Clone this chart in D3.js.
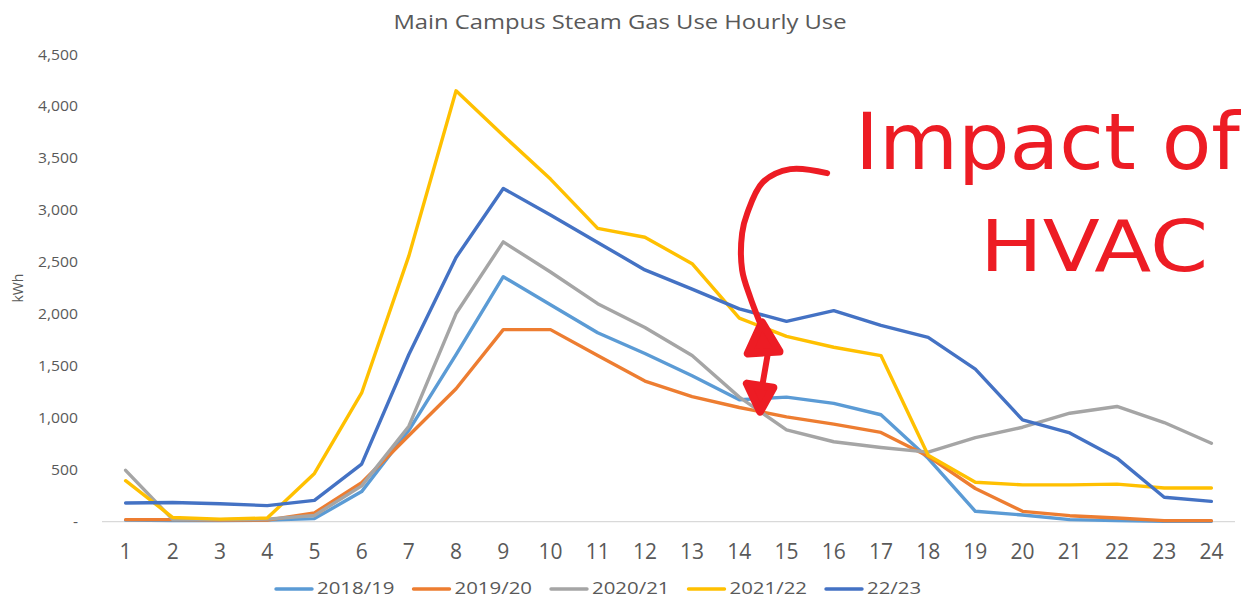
<!DOCTYPE html>
<html>
<head>
<meta charset="utf-8">
<script src="https://cdn.jsdelivr.net/npm/d3@7"></script>
<style>
  body { margin: 0; background: #fff; }
  svg text { font-family: "Open Sans", "Noto Sans", sans-serif; }
</style>
</head>
<body>
<svg id="chart" width="1241" height="598"></svg>
<script>
var hours = d3.range(1, 25);
var yTicks = [0, 500, 1000, 1500, 2000, 2500, 3000, 3500, 4000, 4500];

var seriesNames = ["2018/19", "2019/20", "2020/21", "2021/22", "22/23"];
var seriesColors = ["#5b9bd5", "#ed7d31", "#a5a5a5", "#ffc000", "#4472c4"];

var use1819 = [15, 10, 10, 15, 30, 290, 880, 1610, 2360, 2090, 1820, 1620, 1405, 1175, 1200, 1140, 1030, 610, 100, 65, 20, 10, 5, 5];
var use1920 = [20, 20, 15, 15, 85, 375, 830, 1280, 1850, 1850, 1600, 1355, 1205, 1100, 1010, 940, 860, 630, 320, 100, 58, 35, 10, 10];
var use2021 = [495, 20, 20, 25, 60, 345, 920, 2005, 2695, 2405, 2100, 1870, 1600, 1200, 885, 770, 715, 670, 810, 910, 1045, 1110, 955, 755];
var use2122 = [395, 40, 25, 35, 465, 1240, 2560, 4150, 3720, 3300, 2825, 2740, 2485, 1960, 1785, 1680, 1600, 640, 380, 355, 355, 362, 325, 325];
var use2223 = [180, 185, 173, 155, 205, 555, 1610, 2545, 3210, 2955, 2690, 2425, 2240, 2050, 1930, 2033, 1890, 1776, 1470, 980, 855, 612, 235, 196];

var allSeries = [use1819, use1920, use2021, use2122, use2223];

// hand-drawn note, placed in chart units (hour, kWh)
var noteCurve = [[15.86, 3357], [15.08, 3396], [14.50, 3271], [14.17, 2973], [14.06, 2780],
                 [14.06, 2424], [14.23, 2163], [14.44, 1913]];
var noteShaft = [[14.62, 1660], [14.44, 1190]];
var noteHeadUp = [[14.48, 1920], [14.18, 1620], [14.85, 1640]];
var noteHeadDown = [[14.44, 1060], [14.16, 1330], [14.72, 1290]];

var svg = d3.select("#chart");

var x = d3.scalePoint().domain(hours).range([102, 1235]).padding(0.5);
var y = d3.scaleLinear().domain([0, 4500]).range([521.7, 54.5]);
var xc = d3.scaleLinear().domain([1, 24]).range([x(1), x(24)]);

// the source picture is a bit wider than tall, so stretch text sideways
function stretch(sel, k) {
    sel.each(function() {
        var len = this.getComputedTextLength();
        d3.select(this).attr("textLength", len * k).attr("lengthAdjust", "spacingAndGlyphs");
    });
}

// title
svg.append("text")
    .attr("x", 620).attr("y", 29)
    .attr("text-anchor", "middle")
    .attr("font-size", 19.5)
    .attr("fill", "#595959")
    .text("Main Campus Steam Gas Use Hourly Use")
    .call(stretch, 1.22);

// y axis labels
svg.append("g").selectAll("text")
    .data(yTicks).enter()
    .append("text")
    .attr("x", 78)
    .attr("y", function(d) { return y(d) + 5; })
    .attr("text-anchor", "end")
    .attr("font-size", 14)
    .attr("fill", "#595959")
    .text(function(d) { return d == 0 ? "-" : d3.format(",")(d); })
    .call(stretch, 1.12);

svg.append("text")
    .attr("transform", "translate(23," + y(2250) + ") rotate(-90)")
    .attr("text-anchor", "middle")
    .attr("font-size", 14)
    .attr("fill", "#595959")
    .text("kWh");

// baseline
svg.append("line")
    .attr("x1", 102).attr("x2", 1235)
    .attr("y1", y(0)).attr("y2", y(0))
    .attr("stroke", "#d9d9d9").attr("stroke-width", 1.3);

// x labels
svg.append("g").selectAll("text")
    .data(hours).enter()
    .append("text")
    .attr("x", function(d) { return x(d); })
    .attr("y", 559)
    .attr("text-anchor", "middle")
    .attr("font-size", 21)
    .attr("fill", "#595959")
    .text(function(d) { return d; });

// lines
var line = d3.line()
    .x(function(d, i) { return x(hours[i]); })
    .y(function(d) { return y(d); });

svg.append("g").selectAll("path")
    .data(allSeries).enter()
    .append("path")
    .attr("d", line)
    .attr("fill", "none")
    .attr("stroke", function(d, i) { return seriesColors[i]; })
    .attr("stroke-width", 3.4)
    .attr("stroke-linejoin", "round")
    .attr("stroke-linecap", "round");

// legend
var legend = svg.append("g").selectAll("g")
    .data(seriesNames).enter()
    .append("g")
    .attr("transform", function(d, i) { return "translate(" + (276 + i * 137.5) + ",589)"; });

legend.append("line")
    .attr("x1", 0).attr("x2", 36)
    .attr("stroke", function(d, i) { return seriesColors[i]; })
    .attr("stroke-width", 3.4)
    .attr("stroke-linecap", "round");

legend.append("text")
    .attr("x", 41).attr("y", 5)
    .attr("font-size", 17)
    .attr("fill", "#595959")
    .text(function(d) { return d; })
    .call(stretch, 1.2);

// red annotation
var red = "#ed1c24";
var noteLine = d3.line()
    .x(function(d) { return xc(d[0]); })
    .y(function(d) { return y(d[1]); });

var note = svg.append("g");
note.append("path")
    .attr("d", d3.line().x(noteLine.x()).y(noteLine.y()).curve(d3.curveCatmullRom)(noteCurve))
    .attr("fill", "none").attr("stroke", red)
    .attr("stroke-width", 6).attr("stroke-linecap", "round");
note.append("path")
    .attr("d", noteLine(noteShaft))
    .attr("fill", "none").attr("stroke", red)
    .attr("stroke-width", 6).attr("stroke-linecap", "round");

[noteHeadUp, noteHeadDown].forEach(function(h) {
    note.append("path")
        .attr("d", noteLine(h) + "Z")
        .attr("fill", red).attr("stroke", red)
        .attr("stroke-width", 8).attr("stroke-linejoin", "round");
});

note.append("text")
    .attr("x", xc(16.45)).attr("y", y(3400))
    .attr("font-size", 78)
    .attr("textLength", 385)
    .attr("lengthAdjust", "spacingAndGlyphs")
    .attr("fill", red)
    .style("font-family", "'DejaVu Sans', sans-serif")
    .text("Impact of");

note.append("text")
    .attr("x", xc(19.1)).attr("y", y(2410))
    .attr("font-size", 72)
    .attr("textLength", 228)
    .attr("lengthAdjust", "spacingAndGlyphs")
    .attr("fill", red)
    .style("font-family", "'DejaVu Sans', sans-serif")
    .text("HVAC");
</script>
</body>
</html>
